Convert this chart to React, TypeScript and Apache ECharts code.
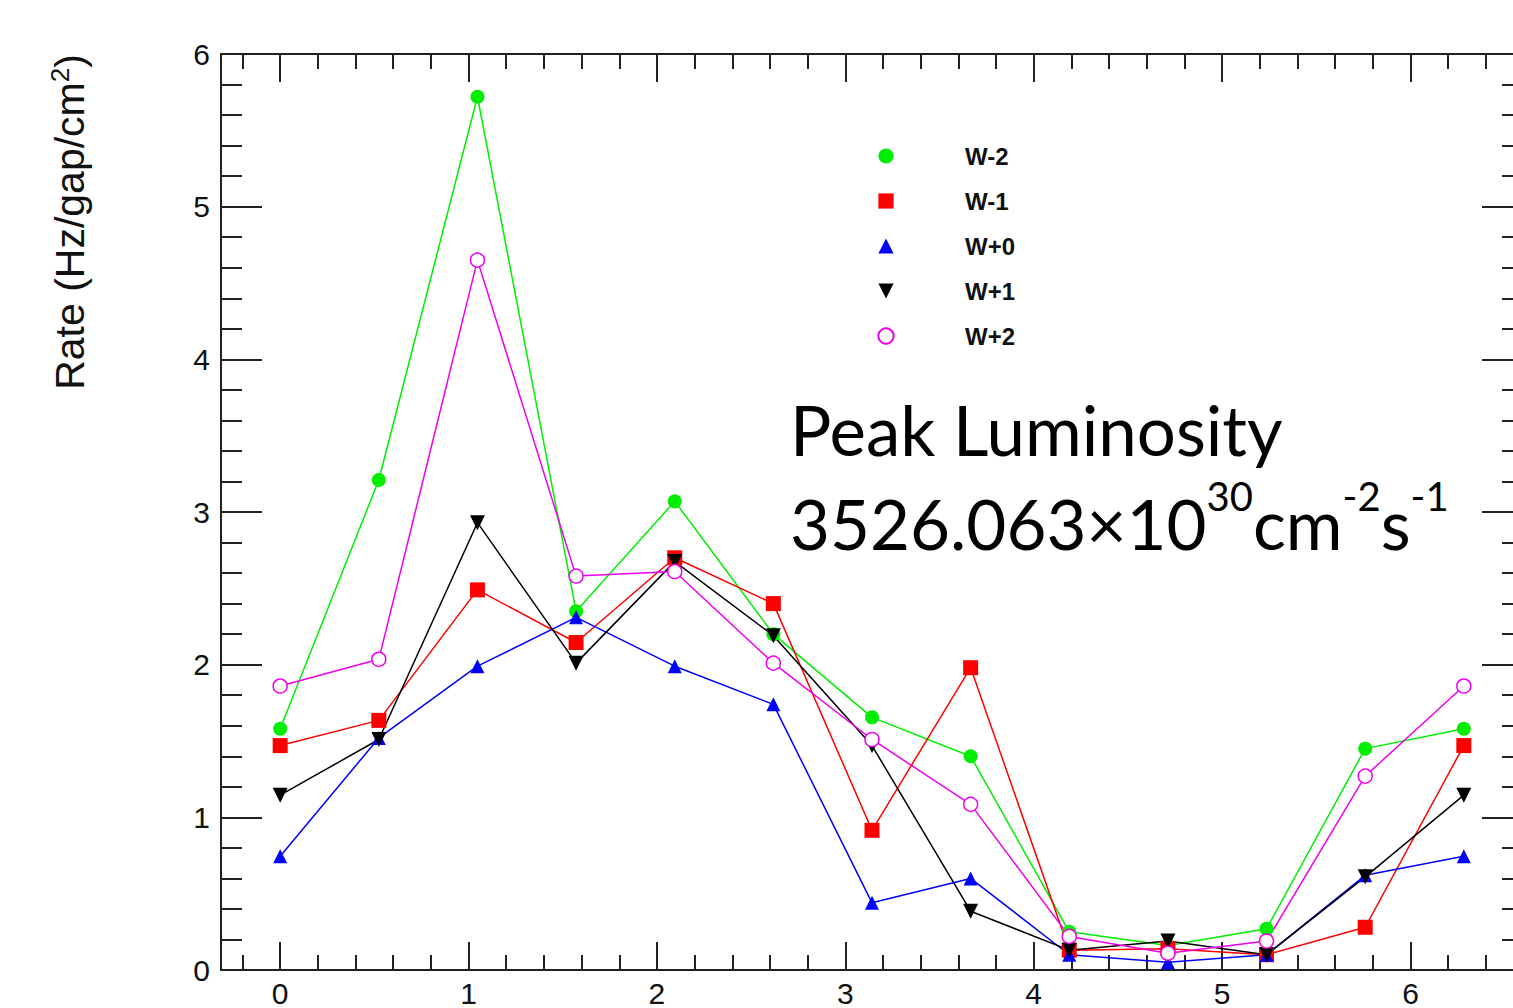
import React, { useEffect, useRef } from "react";
import * as echarts from "echarts";

// x positions (phase, rad) of the 13 measurements
const xValues = [0, 0.5236, 1.0472, 1.5708, 2.0944, 2.618, 3.1416, 3.6652, 4.1888, 4.7124, 5.236, 5.7596, 6.2832];

const seriesNames = ["W-2", "W-1", "W+0", "W+1", "W+2"];
const wMinus2 = [1.58, 3.21, 5.72, 2.35, 3.07, 2.2, 1.655, 1.4, 0.25, 0.16, 0.27, 1.45, 1.58];
const wMinus1 = [1.47, 1.635, 2.49, 2.145, 2.7, 2.4, 0.915, 1.98, 0.13, 0.14, 0.1, 0.28, 1.47];
const wPlus0 = [0.745, 1.52, 1.99, 2.31, 1.99, 1.74, 0.44, 0.6, 0.1, 0.05, 0.1, 0.62, 0.745];
const wPlus1 = [1.145, 1.51, 2.93, 2.01, 2.675, 2.19, 1.47, 0.385, 0.13, 0.19, 0.1, 0.61, 1.145];
const wPlus2 = [1.86, 2.035, 4.65, 2.58, 2.61, 2.01, 1.51, 1.085, 0.22, 0.11, 0.19, 1.27, 1.86];

const xMajorTicks = [0, 1, 2, 3, 4, 5, 6];
const xTickLabels = ["0", "1", "2", "3", "4", "5", "6"];
const xMinorTicks: number[] = [];
for (let i = -1; i <= 32; i++) {
  if (i % 5 !== 0) xMinorTicks.push(Math.round(i * 0.2 * 10) / 10);
}

const X_MIN = -Math.PI / 10;
const X_MAX = 2.1 * Math.PI;

const AXIS_COLOR = "#222";
const LABEL_FONT = "'Liberation Sans', Arial, Helvetica, sans-serif";
const NOTE_FONT = "Lato, 'Open Sans', sans-serif";

export default function App() {
  const ref = useRef<HTMLDivElement>(null);

  useEffect(() => {
    if (!ref.current) return;
    const chart = echarts.init(ref.current, null, { renderer: "svg" });

    const mkLine = (
      name: string,
      values: number[],
      color: string,
      symbol: string,
      opts: any = {}
    ) => ({
      name,
      type: "line",
      xAxisIndex: 0,
      yAxisIndex: 0,
      data: values.map((v, i) => [xValues[i], v]),
      symbol,
      symbolSize: opts.size ?? 15,
      symbolRotate: opts.rotate ?? 0,
      showAllSymbol: true,
      lineStyle: { color, width: 1.5 },
      itemStyle: opts.itemStyle ?? { color },
      emphasis: { disabled: true },
    });

    const baseX = (position: "top" | "bottom", ticks: number[], len: number, showLine: boolean, labels: boolean) => ({
      type: "value",
      gridIndex: 0,
      position,
      min: X_MIN,
      max: X_MAX,
      axisLine: { show: showLine, onZero: false, lineStyle: { color: AXIS_COLOR, width: 2 } },
      axisTick: {
        show: true,
        inside: true,
        length: len,
        customValues: ticks,
        lineStyle: { color: AXIS_COLOR, width: 2 },
      },
      axisLabel: labels
        ? {
            show: true,
            customValues: xMajorTicks,
            formatter: (v: number) => xTickLabels[xMajorTicks.indexOf(Math.round(v))] ?? "",
            fontSize: 30,
            fontFamily: LABEL_FONT,
            color: "#111",
            margin: 8,
          }
        : { show: false },
      splitLine: { show: false },
    });

    const baseY = (position: "left" | "right", labels: boolean) => ({
      type: "value",
      gridIndex: 0,
      position,
      min: 0,
      max: 6,
      interval: 1,
      axisLine: { show: true, onZero: false, lineStyle: { color: AXIS_COLOR, width: 2 } },
      axisTick: { show: true, inside: true, length: 41, lineStyle: { color: AXIS_COLOR, width: 2 } },
      minorTick: { show: true, splitNumber: 5, length: 21, lineStyle: { color: AXIS_COLOR, width: 2 } },
      axisLabel: labels
        ? { show: true, fontSize: 30, fontFamily: LABEL_FONT, color: "#111", margin: 11 }
        : { show: false },
      splitLine: { show: false },
      minorSplitLine: { show: false },
    });

    chart.setOption({
      animation: false,
      backgroundColor: "#fff",
      grid: { left: 221, top: 54, width: 1302, height: 918, containLabel: false },
      xAxis: [
        baseX("bottom", xMajorTicks, 28, true, true),
        baseX("bottom", xMinorTicks, 15, false, false),
        baseX("top", xMajorTicks, 28, true, false),
        baseX("top", xMinorTicks, 15, false, false),
      ],
      yAxis: [baseY("left", true), baseY("right", false)],
      legend: {
        orient: "vertical",
        left: 807,
        top: 139,
        itemWidth: 148,
        itemHeight: 19,
        itemGap: 21,
        lineStyle: { width: 0, opacity: 0 },
        textStyle: { fontSize: 24, fontWeight: "bold", fontFamily: LABEL_FONT, color: "#111" },
        data: seriesNames,
        selectedMode: false,
      },
      series: [
        mkLine(seriesNames[0], wMinus2, "#00ee00", "circle", { size: 14 }),
        mkLine(seriesNames[1], wMinus1, "#ff0000", "rect", { size: 15 }),
        mkLine(seriesNames[2], wPlus0, "#0000ff", "triangle", { size: 14 }),
        mkLine(seriesNames[3], wPlus1, "#000000", "triangle", { size: 15, rotate: 180 }),
        mkLine(seriesNames[4], wPlus2, "#ee00ee", "circle", {
          size: 14,
          itemStyle: { color: "#ffffff", borderColor: "#ee00ee", borderWidth: 1.5 },
        }),
      ],
      graphic: [
        {
          type: "text",
          x: 70,
          y: 222,
          rotation: Math.PI / 2,
          style: {
            text: "{r|Rate (Hz/gap/cm}{s|2}{r|)}",
            align: "center",
            verticalAlign: "middle",
            rich: {
              r: { fontSize: 41, fontFamily: LABEL_FONT, fill: "#111", lineHeight: 46 },
              s: { fontSize: 26, fontFamily: LABEL_FONT, fill: "#111", verticalAlign: "top", lineHeight: 26 },
            },
          },
        },
        {
          type: "text",
          x: 790,
          y: 382,
          style: {
            text: "{a|Peak Luminosity}\n{a|3526.063×10}{s|30}{a|cm}{s|-2}{a|s}{s|-1}",
            align: "left",
            verticalAlign: "top",
            rich: {
              a: { fontSize: 69, fontFamily: NOTE_FONT, fill: "#000", lineHeight: 94 },
              s: { fontSize: 40, fontFamily: NOTE_FONT, fill: "#000", verticalAlign: "top", lineHeight: 62 },
            },
          },
        },
      ],
    });

    return () => chart.dispose();
  }, []);

  return (
    <div
      ref={ref}
      style={{ position: "fixed", left: 0, top: 0, width: 1530, height: 1008, background: "#fff" }}
    />
  );
}
